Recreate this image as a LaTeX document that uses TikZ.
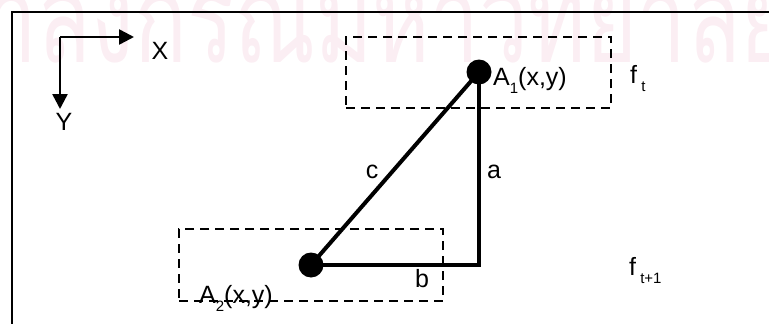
\documentclass[tikz,border=0pt]{standalone}
\usepackage{fontspec}
\setmainfont{Liberation Sans}
\newfontfamily\thaifont[Script=Thai]{Loma}
\usetikzlibrary{arrows.meta}
\definecolor{wmark}{RGB}{251,238,243}
\tikzset{
  lbl/.style={inner sep=0pt, font=\fontsize{25}{28}\selectfont},
  dot/.style={circle, fill=black, minimum size=25pt, inner sep=0pt},
  fbox/.style={draw, line width=2.2pt, dash pattern=on 9pt off 6pt, inner sep=0pt},
  tri/.style={line width=4pt},
  axis/.style={line width=2.5pt, -{Triangle[length=15pt,width=15pt]}},
  frame/.style={line width=2pt}
}
\newcommand\sbs[1]{\raisebox{-0.32em}{\fontsize{15}{15}\selectfont #1}}
\begin{document}
\begin{tikzpicture}[x=1pt,y=1pt]
\useasboundingbox (0,0) rectangle (769,-324);
\clip (0,0) rectangle (769,-324);
% watermark
\node[anchor=base east, inner sep=0pt, text=wmark, xscale=0.70, transform shape, font=\thaifont\fontsize{125}{125}\selectfont] (wm) at (792,-62) {จุฬาลงกรณ์มหาวิทยาลัย};
% frame (top and left edges)
\coordinate (FL) at (12,-324);
\coordinate (FC) at (12,-12);
\coordinate (FR) at (775,-12);
\draw[frame] (FL) -- (FC) -- (FR);
% axes
\coordinate (O) at (60,-37);
\coordinate (Xt) at (134,-37);
\coordinate (Yt) at (60,-109);
\draw[axis] (O) -- (Xt);
\draw[axis] (O) -- (Yt);
\node[lbl] (X) at (160,-51) {X};
\node[lbl] (Y) at (64,-122) {Y};
% frames f_t and f_{t+1}
\node[fbox, minimum width=265pt, minimum height=71pt] (Ft) at (478.5,-72.5) {};
\node[fbox, minimum width=264pt, minimum height=72pt] (Ft1) at (311,-265) {};
% triangle
\node[dot] (A1) at (479,-72) {};
\node[dot] (A2) at (311,-265) {};
\coordinate (C) at (479,-265);
\draw[tri] (A1.center) -- (C) -- (A2.center);
\draw[tri] (A2.center) -- (A1.center);
% labels
\node[lbl, anchor=base west] (A1l) at (493,-85) {A\sbs{1}(x,y)};
\node[lbl, anchor=base west] (A2l) at (199,-303) {A\sbs{2}(x,y)};
\node[lbl] (cl) at (372,-172) {c};
\node[lbl] (al) at (494,-172) {a};
\node[lbl, anchor=base] (bl) at (422,-287) {b};
\node[lbl, anchor=base west] (ftl) at (630,-83) {f\,\sbs{t}};
\node[lbl, anchor=base west] (ft1l) at (629,-275) {f\,\sbs{t+1}};
\end{tikzpicture}
\end{document}
